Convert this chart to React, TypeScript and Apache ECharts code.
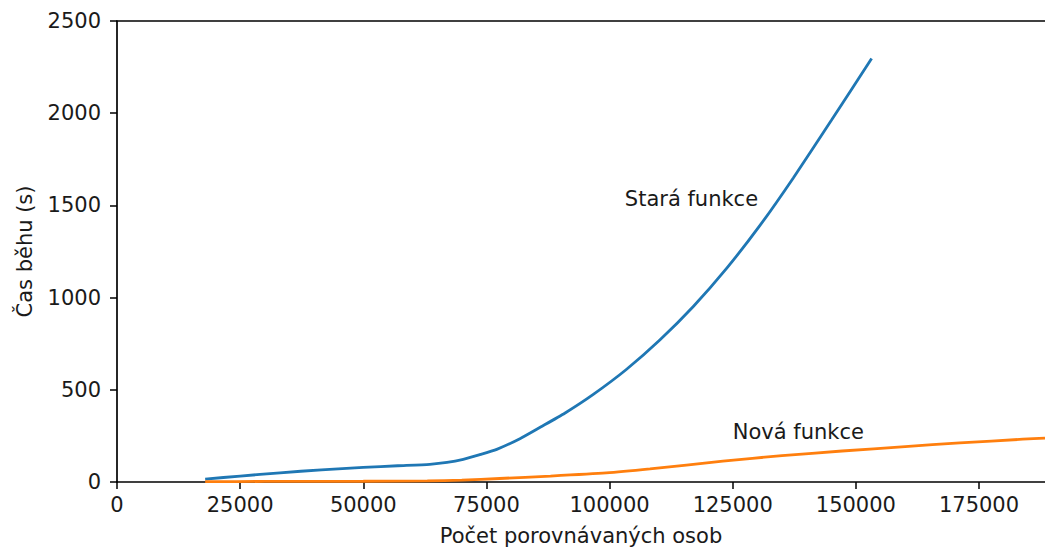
import React, { useEffect, useRef } from "react";
import * as echarts from "echarts";

const xTickLabels = ["0", "25000", "50000", "75000", "100000", "125000", "150000", "175000"];
const yTickLabels = ["0", "500", "1000", "1500", "2000", "2500"];

// Stará funkce (old function): [count, seconds]
const oldX = [17900, 25000, 33100, 41500, 50000, 57000, 63500, 67000, 70300, 73500, 77100, 81800, 86000, 90900, 96700, 103400, 110200, 117000, 123800, 130500, 137300, 145000, 153200];
const oldY = [16, 32, 50, 66, 79, 88, 96, 106, 123, 147, 177, 235, 298, 373, 475, 610, 770, 952, 1160, 1390, 1649, 1960, 2297];

// Nová funkce (new function)
const newX = [17900, 30000, 50000, 63000, 70000, 77700, 88000, 99300, 108200, 123000, 135000, 147200, 160000, 171100, 183900, 188400];
const newY = [2, 3, 4, 6, 10, 19, 32, 49, 71, 113, 143, 168, 192, 212, 232, 238];

const annotations = [
  { text: "Stará funkce", x: 103100, y: 1536, series: 0 },
  { text: "Nová funkce", x: 125000, y: 273, series: 1 },
];

const X_MAX = 188400;
const FONT = "DejaVu Sans";
const FS = 21;

export default function App() {
  const ref = useRef<HTMLDivElement>(null);
  useEffect(() => {
    if (!ref.current) return;
    const chart = echarts.init(ref.current, null, { renderer: "svg" });
    const mk = (i: number) =>
      annotations
        .filter((a) => a.series === i)
        .map((a) => ({
          coord: [a.x, a.y],
          symbol: "circle",
          symbolSize: 0,
          label: {
            show: true,
            formatter: a.text,
            position: "right",
            distance: 0,
            color: "#1a1a1a",
            fontFamily: FONT,
            fontSize: FS,
          },
        }));
    chart.setOption({
      animation: false,
      textStyle: { fontFamily: FONT },
      grid: { left: 117, right: 0, top: 21, bottom: 63 },
      xAxis: [
        {
          type: "value",
          min: 0,
          max: X_MAX,
          interval: 25000,
          name: "Počet porovnávaných osob",
          nameLocation: "middle",
          nameGap: 43,
          nameTextStyle: { color: "#1a1a1a", fontSize: FS, fontFamily: FONT },
          axisLine: { show: true, onZero: false, lineStyle: { color: "#000", width: 1.7 } },
          axisTick: { show: true, length: 7, lineStyle: { color: "#000", width: 1.5 } },
          axisLabel: {
            color: "#1a1a1a",
            fontSize: FS,
            fontFamily: FONT,
            margin: 12,
            showMaxLabel: false,
            formatter: (v: number) => xTickLabels[Math.round(v / 25000)] ?? "",
          },
          splitLine: { show: false },
        },
        {
          type: "value",
          position: "top",
          min: 0,
          max: X_MAX,
          axisLine: { show: true, onZero: false, lineStyle: { color: "#000", width: 1.7 } },
          axisTick: { show: false },
          axisLabel: { show: false },
          splitLine: { show: false },
        },
      ],
      yAxis: {
        type: "value",
        min: 0,
        max: 2500,
        interval: 500,
        name: "Čas běhu (s)",
        nameLocation: "middle",
        nameGap: 82,
        nameTextStyle: { color: "#1a1a1a", fontSize: FS, fontFamily: FONT },
        axisLine: { show: true, onZero: false, lineStyle: { color: "#000", width: 1.7 } },
        axisTick: { show: true, length: 7, lineStyle: { color: "#000", width: 1.5 } },
        axisLabel: {
          color: "#1a1a1a",
          fontSize: FS,
          fontFamily: FONT,
          margin: 16,
          formatter: (v: number) => yTickLabels[Math.round(v / 500)] ?? "",
        },
        splitLine: { show: false },
      },
      series: [
        {
          type: "line",
          data: oldX.map((x, i) => [x, oldY[i]]),
          showSymbol: false,
          smooth: 0.2,
          lineStyle: { color: "#1f77b4", width: 2.8 },
          itemStyle: { color: "#1f77b4" },
          markPoint: { data: mk(0), silent: true },
        },
        {
          type: "line",
          data: newX.map((x, i) => [x, newY[i]]),
          showSymbol: false,
          smooth: 0.2,
          lineStyle: { color: "#ff7f0e", width: 2.8 },
          itemStyle: { color: "#ff7f0e" },
          markPoint: { data: mk(1), silent: true },
        },
      ],
    });
    return () => chart.dispose();
  }, []);
  return (
    <div
      ref={ref}
      style={{ position: "absolute", left: 0, top: 0, width: 1045, height: 551, background: "#fff" }}
    />
  );
}
